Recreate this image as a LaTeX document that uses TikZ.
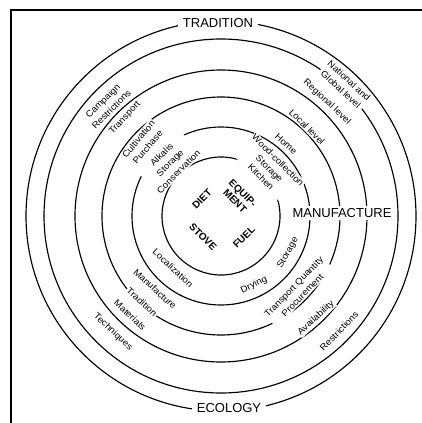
\documentclass[tikz,border=0pt]{standalone}
\usepackage{fontspec}
\newfontfamily\labfont[FakeStretch=1.08]{Liberation Sans}
\newfontfamily\bigfont{Liberation Sans}
\begin{document}
\begin{tikzpicture}[x=1pt,y=-1pt,
  ring/.style={line width=1.15pt},
  lbl/.style={font=\labfont\fontsize{9}{12}\selectfont, align=center, fill=white, inner sep=1pt},
  big/.style={font=\bigfont\fontsize{13}{14}\selectfont, fill=white, inner xsep=5pt, inner ysep=2pt},
  core/.style={font=\bigfont\bfseries\fontsize{10}{11}\selectfont, align=center, inner sep=1pt}]
\useasboundingbox (0,0) rectangle (422,423);
\draw[line width=1.8pt] (422,10) -- (11,10) -- (11,423);
\coordinate (c) at (221,216);
\foreach \r in {59,89,119,146,177,195} \draw[ring] (c) circle[radius=\r pt];
% big labels
\node[big] (tradition) at (218,23) {TRADITION};
\node[big] (ecology) at (229,408) {ECOLOGY};
\node[big, inner xsep=1.5pt] (manufacture) at (342,213) {MANUFACTURE};
% core
\node[core, rotate=45] (diet) at (202,199) {DIET};
\node[core, rotate=-45] (equip) at (239,197) {EQUIP-\\MENT};
\node[core, rotate=-45] (stove) at (203,237) {STOVE};
\node[core, rotate=45] (fuel) at (244,237) {FUEL};
% upper left
\node[lbl, rotate=45] (campaign) at (107,105) {Campaign\\Restrictions};
\node[lbl, rotate=47] (transport) at (125,118) {Transport};
\node[lbl, rotate=50] (cultivation) at (143,143) {Cultivation\\Purchase};
\node[lbl, rotate=45] (alkalis) at (170,163) {Alkalis\\Storage\\Conservation};
% upper right
\node[lbl, rotate=-43] (national) at (345,85) {National and\\Global level};
\node[lbl, rotate=-43] (regional) at (327,102) {Regional level};
\node[lbl, rotate=-45] (local) at (307,127) {Local level};
\node[lbl, rotate=-42] (home) at (286,144) {Home};
\node[lbl, rotate=-45] (kitchen) at (269.5,168.5) {Wood-collection\\Storage\\Kitchen};
% lower right
\node[lbl, rotate=26] (drying) at (254,285) {Drying};
\node[lbl, rotate=61] (storageb) at (288,253) {Storage};
\node[lbl, rotate=46] (transportq) at (298,291) {Transport Quantity\\Procurement};
\node[lbl, rotate=43] (availability) at (316,318) {Availability};
\node[lbl, rotate=46] (restrictions) at (339,331) {Restrictions};
% lower left
\node[lbl, rotate=-43] (localization) at (173,268) {Localization};
\node[lbl, rotate=-42] (manuf) at (155,289) {Manufacture};
\node[lbl, rotate=-42] (trad) at (142,302) {Tradition};
\node[lbl, rotate=-43] (materials) at (130,315) {Materials};
\node[lbl, rotate=-43] (techniques) at (113,332) {Techniques};
\end{tikzpicture}
\end{document}
